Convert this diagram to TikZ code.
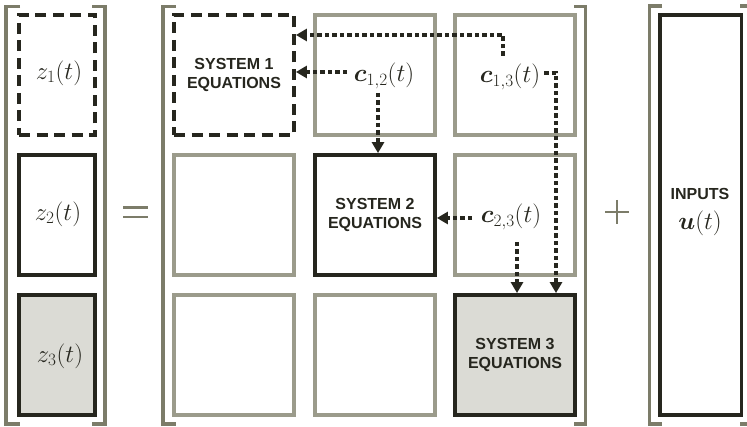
\documentclass[tikz,border=0pt]{standalone}
\usepackage{fontspec}
\usepackage{amsmath}
\usepackage{bm}
\usetikzlibrary{arrows.meta}
\newfontfamily\labfont{Liberation Sans}
\definecolor{brk}{HTML}{7C7C69}
\definecolor{cellc}{HTML}{9B9B8B}
\definecolor{blk}{HTML}{26261E}
\definecolor{fillc}{HTML}{DBDBD5}
\tikzset{
  brkline/.style={draw=brk, line width=3.2pt},
  cellbox/.style={draw=cellc, line width=3.2pt, minimum width=120pt, minimum height=120pt, inner sep=0pt},
  sysbox/.style={draw=blk, line width=3.8pt, minimum width=120pt, minimum height=120pt, inner sep=0pt, align=center, font=\labfont\bfseries\fontsize{16}{19}\selectfont, text=blk},
  zbox/.style={draw=blk, line width=3.8pt, minimum width=76pt, minimum height=120pt, inner sep=0pt},
  dashbox/.style={dash pattern=on 11pt off 6.5pt},
  mlabel/.style={inner sep=0pt, text=blk, font=\fontsize{24}{28}\selectfont},
  arr/.style={draw=blk, line width=4pt, dash pattern=on 4.5pt off 3pt, -{Triangle[width=12pt,length=11pt]}},
  opsign/.style={draw=brk, line width=2.6pt}
}
\begin{document}
\begin{tikzpicture}[x=1pt,y=-1pt]
\useasboundingbox (0,0) rectangle (747,427);
% vector brackets
\draw[brkline] (20,6.5) -- (6,6.5) -- (6,424) -- (20,424);
\draw[brkline] (92,6.5) -- (105,6.5) -- (105,424) -- (92,424);
% z boxes
\node[zbox, dashbox] (z1) at (57,75) {};
\node[zbox] (z2) at (57,215) {};
\node[zbox, fill=fillc] (z3) at (57,355) {};
\node[mlabel] (z1t) at (59,73) {$z_1(t)$};
\node[mlabel] (z2t) at (58,214) {$z_2(t)$};
\node[mlabel] (z3t) at (60,356) {$z_3(t)$};
% equals
\draw[opsign] (123,207.5) -- (148,207.5);
\draw[opsign] (123,217) -- (148,217);
% matrix brackets
\draw[brkline] (176,6.5) -- (163,6.5) -- (163,424) -- (176,424);
\draw[brkline] (574,6.5) -- (585.5,6.5) -- (585.5,424) -- (574,424);
% cells
\node[cellbox] (c12b) at (375,75) {};
\node[cellbox] (c13b) at (515,75) {};
\node[cellbox] (c21b) at (234,215) {};
\node[cellbox] (c23b) at (515,215) {};
\node[cellbox] (c31b) at (234,355) {};
\node[cellbox] (c32b) at (375,355) {};
\node[sysbox, dashbox] (s1) at (234,75) {SYSTEM 1\\EQUATIONS};
\node[sysbox] (s2) at (375,215) {SYSTEM 2\\EQUATIONS};
\node[sysbox, fill=fillc] (s3) at (515,355) {SYSTEM 3\\EQUATIONS};
% coupling labels
\node[mlabel] (c12) at (384,76) {$\bm{c}_{1,2}(t)$};
\node[mlabel] (c13) at (510,77) {$\bm{c}_{1,3}(t)$};
\node[mlabel] (c23) at (511,217) {$\bm{c}_{2,3}(t)$};
% arrow endpoints
\coordinate (a1s) at (503,56);
\coordinate (a2s) at (347,72);
\coordinate (a3s) at (378,93);
\coordinate (a4s) at (544,73);
\coordinate (a5s) at (472,218);
\coordinate (a6s) at (517,242);
\draw[arr] (a1s) |- ([yshift=40pt]s1.east);
\draw[arr] (a2s) -- (a2s -| s1.east);
\draw[arr] (a3s) -- (a3s |- s2.north);
\draw[arr] (a4s) -| ([xshift=41pt]s3.north);
\draw[arr] (a5s) -- (a5s -| s2.east);
\draw[arr] (a6s) -- (a6s |- s3.north);
% plus
\draw[opsign] (605,212) -- (629,212);
\draw[opsign] (617,200) -- (617,224);
% inputs brackets
\draw[brkline] (662,6) -- (649.5,6) -- (649.5,424) -- (662,424);
\draw[brkline] (740,6) -- (751,6) -- (751,424) -- (740,424);
\node[draw=blk, line width=3.8pt, minimum width=81.5pt, minimum height=400pt, inner sep=0pt] (inp) at (700.75,215) {};
\node[inner sep=0pt, text=blk, font=\labfont\bfseries\fontsize{16}{19}\selectfont] (inpt) at (700,194) {INPUTS};
\node[mlabel] (ut) at (700,223) {$\bm{u}(t)$};
\end{tikzpicture}
\end{document}
